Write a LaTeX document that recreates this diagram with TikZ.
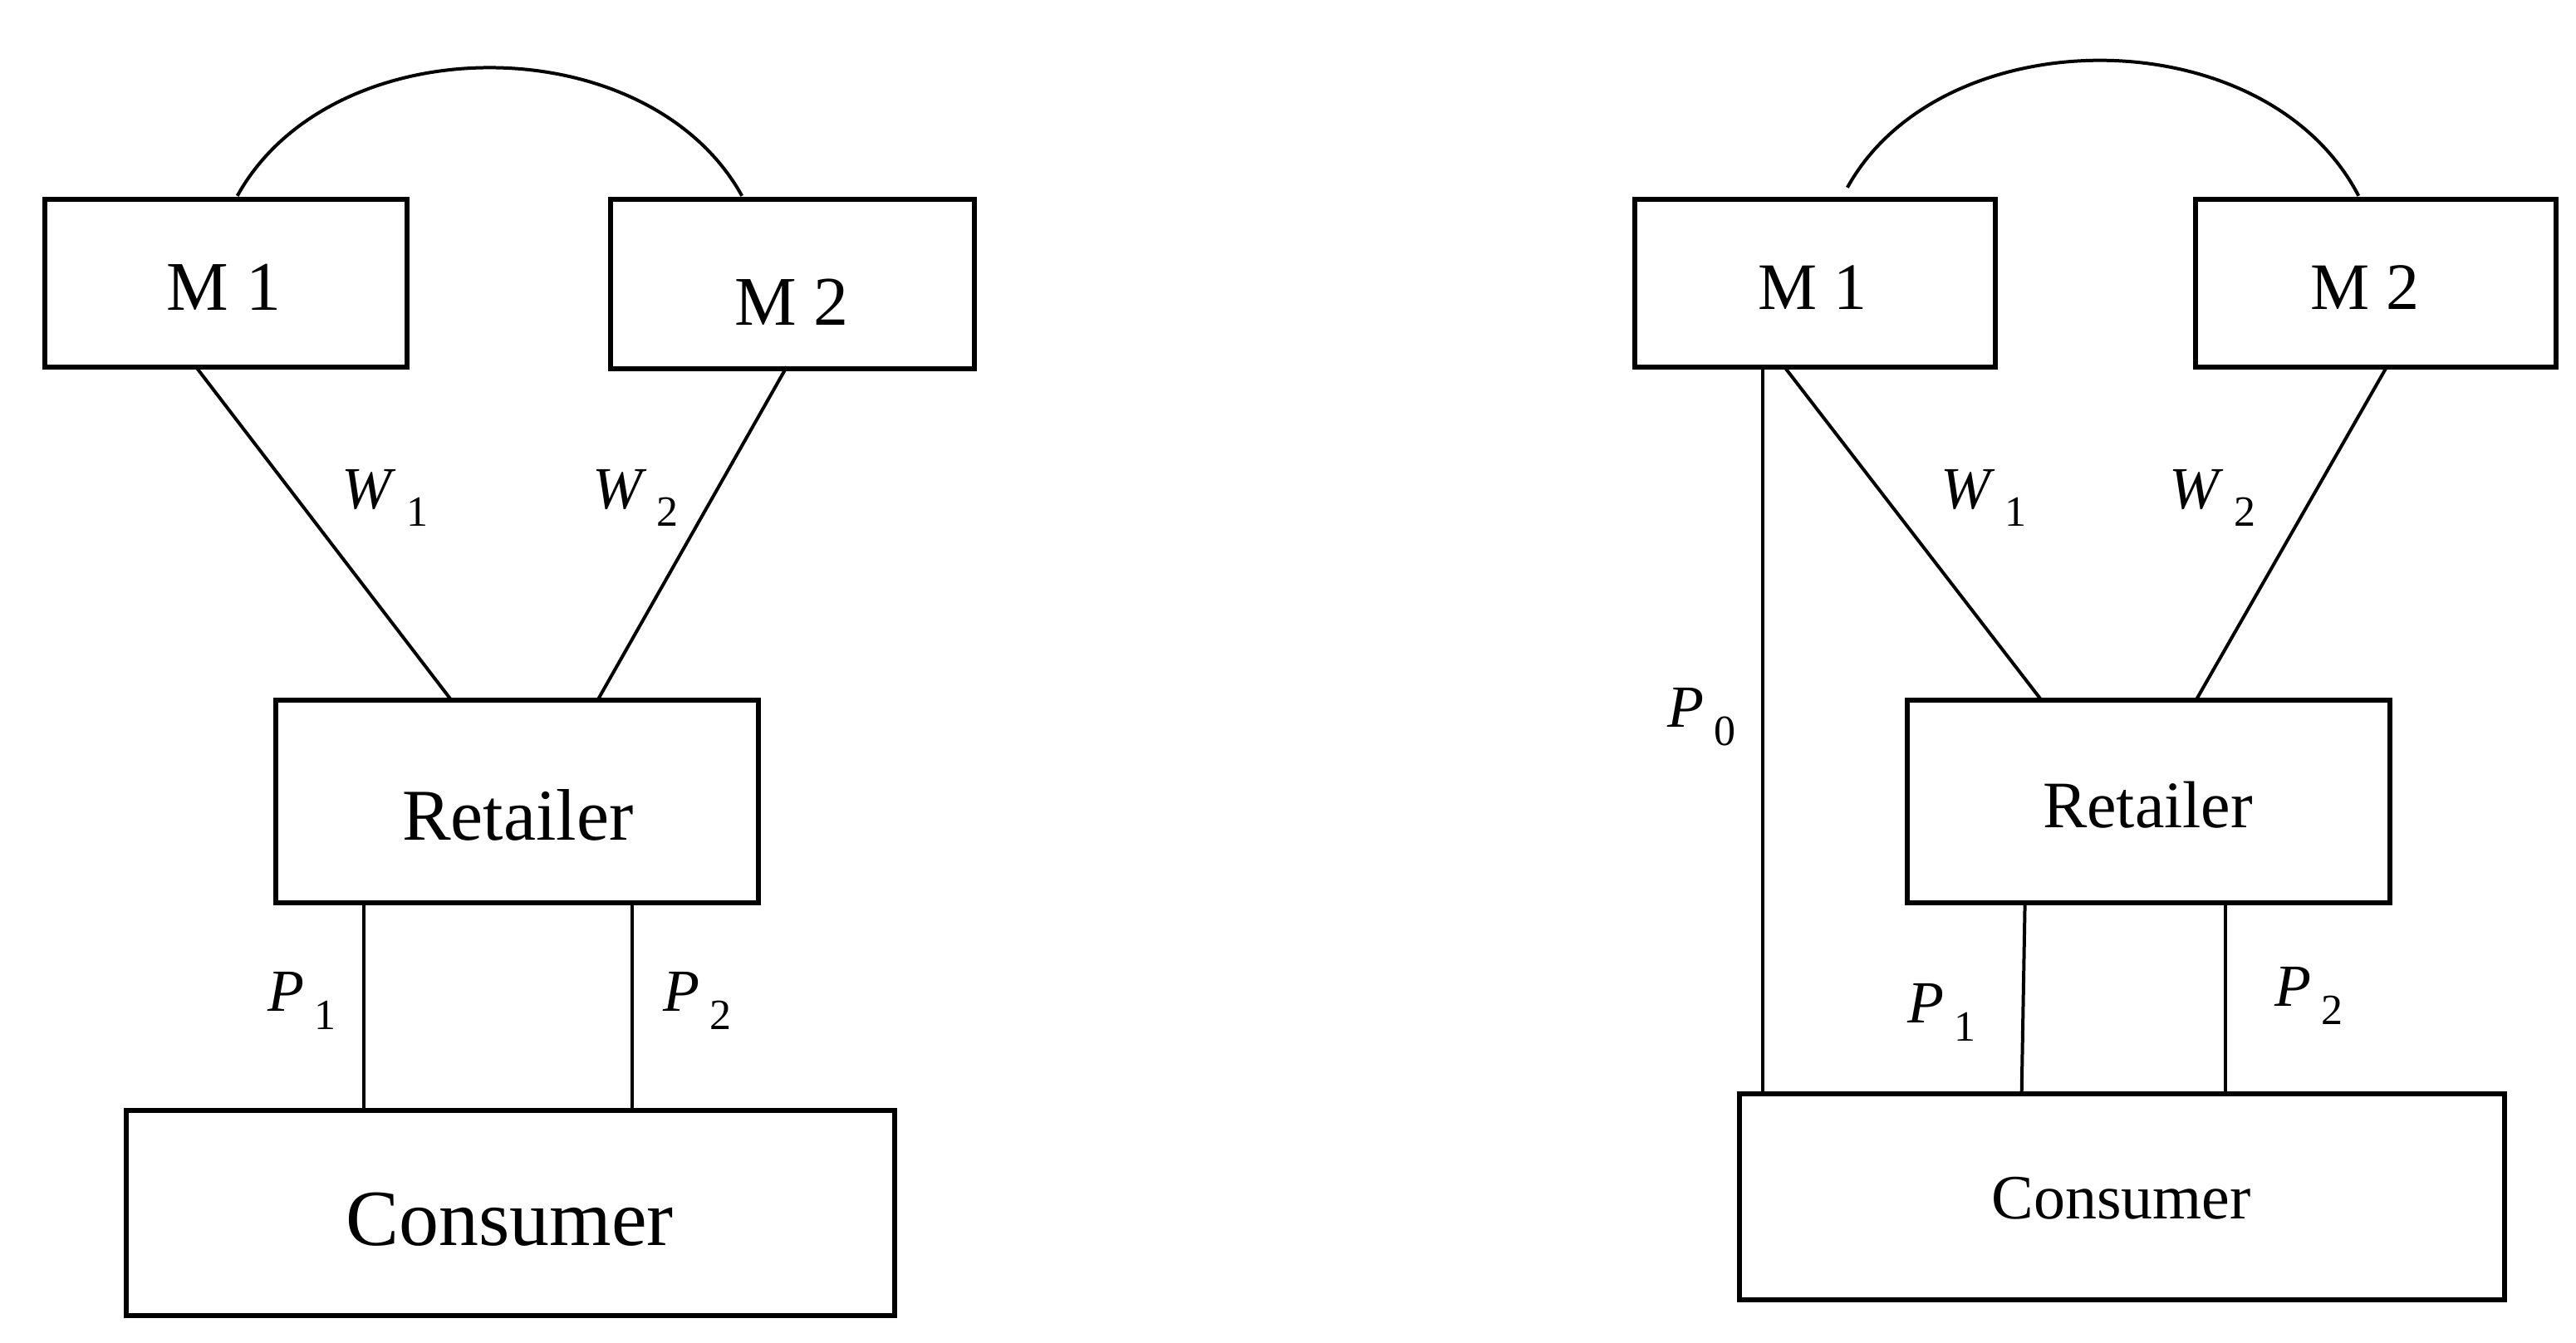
\documentclass[tikz,border=0pt]{standalone}
\usepackage{fontspec}
\setmainfont{Liberation Serif}
\newcommand{\lb}[2]{\textit{#1}\,\raisebox{-0.3em}{\fontsize{26}{28}\selectfont #2}}
\begin{document}
\begin{tikzpicture}[x=1pt,y=-1pt,
  box/.style={draw,line width=3pt,inner sep=0pt},
  ln/.style={line width=2pt},
  lab/.style={font=\fontsize{36}{40}\selectfont},
  bt/.style={font=\fontsize{#1}{#1}\selectfont}]
\useasboundingbox (0,0) rectangle (1552,809);
% ---------- left ----------
\node[box,minimum width=218,minimum height=101] (lm1) at (136,170.5) {};
\node[bt=42] at (135,173) {M 1};
\node[box,minimum width=219,minimum height=102] (lm2) at (477.5,171) {};
\node[bt=42] at (477,182) {M 2};
\node[box,minimum width=291,minimum height=122] (lr) at (311.5,483) {};
\node[bt=44] at (312,491) {Retailer};
\node[box,minimum width=463,minimum height=124] (lc) at (307.5,731) {};
\node[bt=48] at (307,735) {Consumer};
\coordinate (la1) at (143,118); \coordinate (la2) at (447,118);
\draw[ln] (la1) .. controls (200,15) and (390,15) .. (la2);
\coordinate (lw1a) at (118,221); \coordinate (lw1b) at (272,422);
\coordinate (lw2a) at (474,221); \coordinate (lw2b) at (360,422);
\draw[ln] (lw1a) -- (lw1b); \draw[ln] (lw2a) -- (lw2b);
\node[lab] at (232,300) {\lb{W}{1}};
\node[lab] at (383,300) {\lb{W}{2}};
\coordinate (lp1a) at (219,544); \coordinate (lp1b) at (219,669);
\coordinate (lp2a) at (381,544); \coordinate (lp2b) at (381,669);
\draw[ln] (lp1a) -- (lp1b); \draw[ln] (lp2a) -- (lp2b);
\node[lab] at (182,603) {\lb{P}{1}};
\node[lab] at (420,603) {\lb{P}{2}};
% ---------- right ----------
\node[box,minimum width=217,minimum height=101] (rm1) at (1093.5,170.5) {};
\node[bt=40] at (1092,173) {M 1};
\node[box,minimum width=217,minimum height=101] (rm2) at (1431.5,170.5) {};
\node[bt=40] at (1425,173) {M 2};
\node[box,minimum width=291,minimum height=122] (rr) at (1294.5,483) {};
\node[bt=40] at (1294,485) {Retailer};
\node[box,minimum width=461,minimum height=124] (rc) at (1278.5,721) {};
\node[bt=38] at (1278,722) {Consumer};
\coordinate (ra1) at (1113,113); \coordinate (ra2) at (1421,118);
\draw[ln] (ra1) .. controls (1170,10) and (1365,10) .. (ra2);
\coordinate (rp0a) at (1062,221); \coordinate (rp0b) at (1062,659);
\draw[ln] (rp0a) -- (rp0b);
\node[lab] at (1025,432) {\lb{P}{0}};
\coordinate (rw1a) at (1075,221); \coordinate (rw1b) at (1230,422);
\coordinate (rw2a) at (1438,221); \coordinate (rw2b) at (1323,422);
\draw[ln] (rw1a) -- (rw1b); \draw[ln] (rw2a) -- (rw2b);
\node[lab] at (1195,300) {\lb{W}{1}};
\node[lab] at (1333,300) {\lb{W}{2}};
\coordinate (rp1a) at (1220,544); \coordinate (rp1b) at (1218,659);
\coordinate (rp2a) at (1341,544); \coordinate (rp2b) at (1341,659);
\draw[ln] (rp1a) -- (rp1b); \draw[ln] (rp2a) -- (rp2b);
\node[lab] at (1170,610) {\lb{P}{1}};
\node[lab] at (1391,600) {\lb{P}{2}};
\end{tikzpicture}
\end{document}
